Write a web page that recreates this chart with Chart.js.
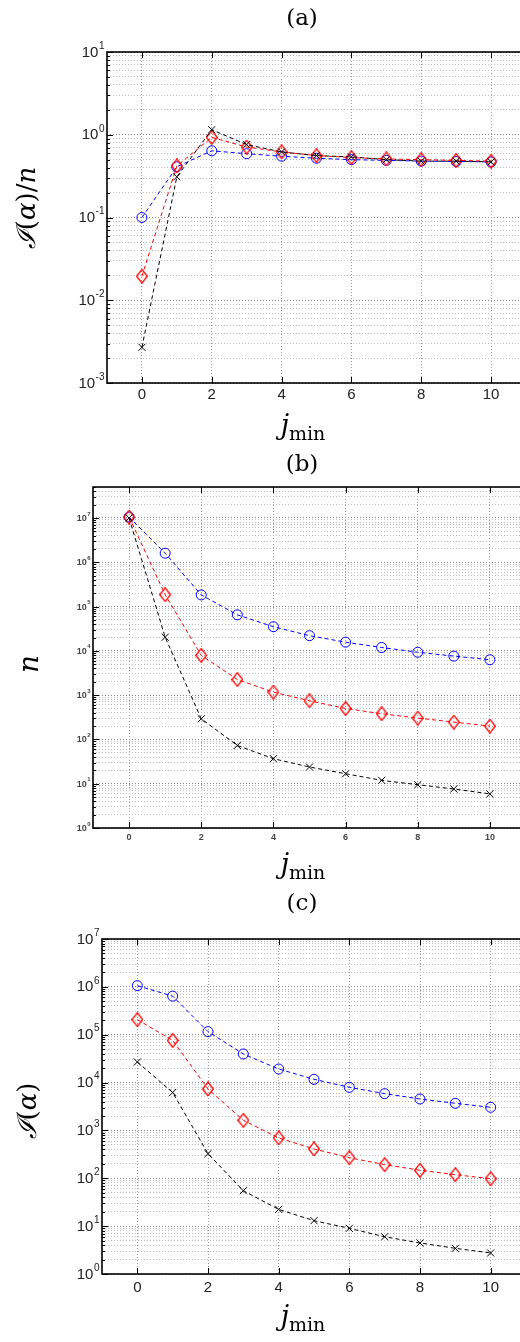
<!DOCTYPE html>
<html>
<head>
<meta charset="utf-8">
<script src="https://cdn.jsdelivr.net/npm/chart.js@4.4.1/dist/chart.umd.min.js"></script>
<style>
html, body { margin: 0; padding: 0; background: #fff; }
body { position: relative; width: 520px; height: 1342px; overflow: hidden; }
canvas { position: absolute; left: 0; }
</style>
</head>
<body>
<canvas id="chartA"></canvas>
<canvas id="chartB"></canvas>
<canvas id="chartC"></canvas>
<script>
// j_min values and x tick labels
const jmin = [0, 1, 2, 3, 4, 5, 6, 7, 8, 9, 10];
const xTicks = [0, 2, 4, 6, 8, 10];

// (a) I(alpha)/n
const ratioBlue  = [0.10, 0.41, 0.64, 0.59, 0.55, 0.52, 0.50, 0.49, 0.48, 0.475, 0.47];
const ratioRed   = [0.0195, 0.42, 0.93, 0.71, 0.62, 0.56, 0.53, 0.51, 0.50, 0.49, 0.48];
const ratioBlack = [0.0027, 0.31, 1.15, 0.76, 0.62, 0.56, 0.54, 0.50, 0.48, 0.48, 0.47];

// (b) n
const nBlue  = [1.05e7, 1.6e6, 1.83e5, 6.5e4, 3.5e4, 2.2e4, 1.57e4, 1.19e4, 9.3e3, 7.6e3, 6.3e3];
const nRed   = [1.05e7, 1.85e5, 7.9e3, 2.25e3, 1170, 745, 500, 380, 303, 246, 200];
const nBlack = [1.0e7, 2.03e4, 292, 73, 36.7, 23.8, 16.8, 11.9, 9.5, 7.6, 5.9];

// (c) I(alpha)
const iBlue  = [1.06e6, 6.4e5, 1.16e5, 3.96e4, 1.92e4, 1.17e4, 7960, 5870, 4540, 3690, 3040];
const iRed   = [2.07e5, 7.6e4, 7350, 1630, 697, 410, 270, 193, 147, 119, 98];
const iBlack = [2.69e4, 6200, 327, 55, 22.4, 13, 9.0, 6.0, 4.45, 3.44, 2.75];

const W = 540;
const SERIF = '"DejaVu Serif"';

function isDecade(v) {
  const l = Math.log10(v);
  return Math.abs(l - Math.round(l)) < 1e-6;
}

function logTicks(min, max) {
  const out = [];
  for (let e = Math.floor(Math.log10(min)); e <= Math.ceil(Math.log10(max)); e++) {
    for (let k = 1; k <= 9; k++) {
      const v = k * Math.pow(10, e);
      if (v >= min * 0.999 && v <= max * 1.001) out.push({ value: v });
    }
  }
  return out;
}

// open diamond marker, a bit taller than wide
function diamond(w, h) {
  const c = document.createElement('canvas');
  c.width = w; c.height = h;
  const g = c.getContext('2d');
  g.strokeStyle = '#ff0000';
  g.lineWidth = 1.3;
  g.beginPath();
  g.moveTo(w / 2, 0.7);
  g.lineTo(w - 0.7, h / 2);
  g.lineTo(w / 2, h - 0.7);
  g.lineTo(0.7, h / 2);
  g.closePath();
  g.stroke();
  return c;
}

function drawRuns(ctx, runs, cx, base) {
  let total = 0;
  runs.forEach(r => { ctx.font = r.font; r.w = ctx.measureText(r.t).width; total += r.w; });
  let x = cx - total / 2;
  runs.forEach(r => { ctx.font = r.font; ctx.fillText(r.t, x, base + (r.dy || 0)); x += r.w; });
}

function decor(p) {
  return {
    id: 'decor',
    afterDraw(chart) {
      const ctx = chart.ctx, a = chart.chartArea;
      const ys = chart.scales.y, xs = chart.scales.x;
      ctx.save();
      // inward ticks
      ctx.strokeStyle = '#000';
      ctx.lineWidth = 1;
      ctx.beginPath();
      ys.ticks.forEach(t => {
        const py = Math.round(ys.getPixelForValue(t.value)) + 0.5;
        const len = isDecade(t.value) ? 6 : 3;
        ctx.moveTo(a.left, py); ctx.lineTo(a.left + len, py);
      });
      xTicks.forEach(v => {
        const px = Math.round(xs.getPixelForValue(v)) + 0.5;
        ctx.moveTo(px, a.bottom); ctx.lineTo(px, a.bottom - 6);
        ctx.moveTo(px, a.top); ctx.lineTo(px, a.top + 6);
      });
      ctx.stroke();
      // frame
      ctx.lineWidth = 1.6;
      ctx.strokeRect(a.left, a.top, a.right - a.left, a.bottom - a.top);

      // y tick labels 10^e
      ctx.fillStyle = p.labelColor;
      ctx.textBaseline = 'middle';
      ctx.textAlign = 'left';
      ys.ticks.forEach(t => {
        if (!isDecade(t.value)) return;
        const e = String(Math.round(Math.log10(t.value)));
        const py = ys.getPixelForValue(t.value);
        ctx.font = p.expFont;
        const we = ctx.measureText(e).width;
        ctx.font = p.labelFont;
        const wb = ctx.measureText('10').width;
        const x0 = a.left - p.gap - we - wb;
        ctx.fillText('10', x0, py + 0.5);
        ctx.font = p.expFont;
        ctx.fillText(e, x0 + wb + 0.5, py - p.raise);
      });

      // panel title
      ctx.fillStyle = '#000';
      ctx.textAlign = 'center';
      ctx.textBaseline = 'middle';
      ctx.font = '23px ' + SERIF;
      ctx.fillText(p.title, 302, p.titleY);

      // x title j_min
      ctx.textAlign = 'left';
      ctx.textBaseline = 'alphabetic';
      drawRuns(ctx, [
        { t: 'j', font: 'italic 27px ' + SERIF },
        { t: 'min', font: '19px ' + SERIF, dy: 6 }
      ], 303, p.xTitleY);

      // y title, rotated
      ctx.save();
      ctx.translate(p.yTitleX, p.yTitleY);
      ctx.rotate(-Math.PI / 2);
      ctx.textBaseline = 'middle';
      drawRuns(ctx, p.yTitle, 0, 0);
      ctx.restore();
      ctx.restore();
    }
  };
}

function series(vals, color, style, radius) {
  return {
    data: jmin.map((x, i) => ({ x: x, y: vals[i] })),
    borderColor: color,
    borderWidth: 1,
    borderDash: [4, 3],
    pointStyle: style,
    pointRadius: radius,
    pointBorderColor: color,
    pointBackgroundColor: 'rgba(0,0,0,0)',
    pointBorderWidth: 1,
    tension: 0,
    clip: false
  };
}

function makeChart(id, p) {
  const cv = document.getElementById(id);
  cv.width = W; cv.height = p.height;
  cv.style.width = W + 'px'; cv.style.height = p.height + 'px';
  cv.style.top = p.top + 'px';
  new Chart(cv, {
    type: 'line',
    data: {
      datasets: [
        series(p.black, '#000000', 'crossRot', 5),
        series(p.red, '#ff0000', diamond(12, 15), 6),
        series(p.blue, '#0000ff', 'circle', p.circleR)
      ]
    },
    options: {
      responsive: false,
      animation: false,
      events: [],
      layout: { padding: { top: p.area[1], right: W - p.area[2], bottom: 0, left: 0 } },
      plugins: { legend: { display: false }, tooltip: { enabled: false } },
      scales: {
        x: {
          type: 'linear', min: -1, max: 11,
          afterBuildTicks: s => { s.ticks = xTicks.map(v => ({ value: v })); },
          afterFit: s => { s.height = p.height - p.area[3]; },
          grid: { color: '#9a9a9a', lineWidth: 1, drawTicks: false },
          border: { display: false, dash: [1, 2] },
          ticks: { font: p.xFont, color: p.labelColor, padding: p.xPad, autoSkip: false, maxRotation: 0 }
        },
        y: {
          type: 'logarithmic', min: p.yMin, max: p.yMax,
          afterBuildTicks: s => { s.ticks = logTicks(p.yMin, p.yMax); },
          afterFit: s => { s.width = p.area[0]; },
          grid: {
            color: c => (c.tick && isDecade(c.tick.value)) ? '#8a8a8a' : '#bdbdbd',
            lineWidth: 1, drawTicks: false
          },
          border: { display: false, dash: [1, 2] },
          ticks: { display: false, autoSkip: false }
        }
      }
    },
    plugins: [decor(p)]
  });
}

const bigFont = { family: '"Liberation Sans"', size: 15 };

makeChart('chartA', {
  top: 0, height: 450, area: [107, 52, 526, 383],
  yMin: 1e-3, yMax: 10,
  blue: ratioBlue, red: ratioRed, black: ratioBlack, circleR: 5,
  title: '(a)', titleY: 19, xTitleY: 434,
  yTitleX: 28, yTitleY: 208,
  yTitle: [
    { t: 'ℐ', font: 'italic 26px ' + SERIF },
    { t: '(', font: '26px ' + SERIF },
    { t: 'α', font: 'italic 26px ' + SERIF },
    { t: ')', font: '26px ' + SERIF },
    { t: '/', font: '26px ' + SERIF },
    { t: 'n', font: 'italic 26px ' + SERIF }
  ],
  xFont: bigFont, xPad: 3, labelColor: '#222',
  labelFont: '15px "Liberation Sans"', expFont: '10px "Liberation Sans"', gap: 3, raise: 6
});

makeChart('chartB', {
  top: 450, height: 440, area: [93, 37, 526, 378],
  yMin: 1, yMax: 5e7,
  blue: nBlue, red: nRed, black: nBlack, circleR: 5,
  title: '(b)', titleY: 15, xTitleY: 423,
  yTitleX: 31, yTitleY: 214,
  yTitle: [{ t: 'n', font: 'italic 28px ' + SERIF }],
  xFont: { family: '"Liberation Sans"', size: 9, weight: 'bold' }, xPad: 4, labelColor: '#444',
  labelFont: 'bold 9px "Liberation Sans"', expFont: 'bold 6px "Liberation Sans"', gap: 3, raise: 4
});

makeChart('chartC', {
  top: 890, height: 452, area: [102, 49, 526, 384],
  yMin: 1, yMax: 1e7,
  blue: iBlue, red: iRed, black: iBlack, circleR: 5,
  title: '(c)', titleY: 14, xTitleY: 435,
  yTitleX: 29, yTitleY: 221,
  yTitle: [
    { t: 'ℐ', font: 'italic 26px ' + SERIF },
    { t: '(', font: '26px ' + SERIF },
    { t: 'α', font: 'italic 26px ' + SERIF },
    { t: ')', font: '26px ' + SERIF }
  ],
  xFont: bigFont, xPad: 5, labelColor: '#222',
  labelFont: '15px "Liberation Sans"', expFont: '10px "Liberation Sans"', gap: 3, raise: 6
});
</script>
</body>
</html>
